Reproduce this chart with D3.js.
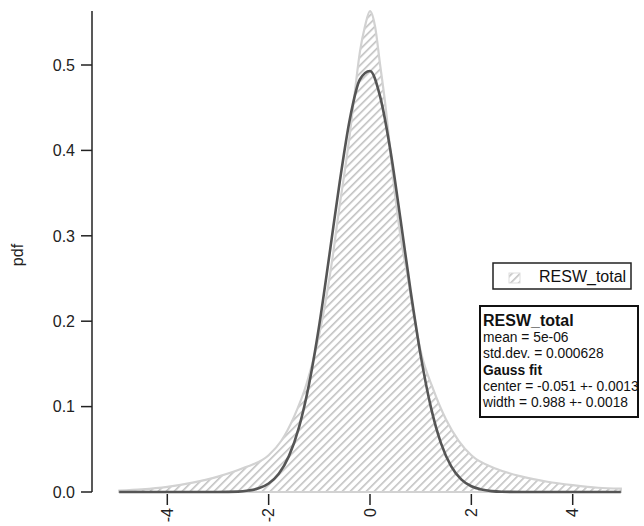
<!DOCTYPE html>
<html>
<head>
<meta charset="utf-8">
<script src="https://cdn.jsdelivr.net/npm/d3@7"></script>
<style>
  body { margin: 0; background: #fff; }
  text { font-family: "Liberation Sans", Arial, sans-serif; }
</style>
</head>
<body>
<div id="chart"></div>
<script>
// histogram of RESW_total (outline)
const histX = [-4.95, -4.5, -4.0, -3.5, -3.0, -2.5, -2.0, -1.75, -1.5, -1.25, -1.0, -0.9, -0.75, -0.6, -0.5, -0.4, -0.3, -0.2, -0.1, 0.0,
               0.1, 0.2, 0.3, 0.4, 0.5, 0.6, 0.75, 0.85, 1.0, 1.25, 1.5, 1.75, 2.0, 2.5, 3.0, 3.5, 4.0, 4.5, 4.95];
const histY = [0.0015, 0.003, 0.006, 0.011, 0.018, 0.028, 0.043, 0.06, 0.088, 0.127, 0.185, 0.215, 0.27, 0.335, 0.375, 0.418, 0.468, 0.515, 0.545, 0.563,
               0.545, 0.50, 0.455, 0.40, 0.345, 0.30, 0.25, 0.213, 0.165, 0.12, 0.085, 0.06, 0.043, 0.027, 0.018, 0.012, 0.008, 0.005, 0.004];

// gauss fit curve
const gaussX = [-4.95, -3.0, -2.6, -2.4, -2.2, -2.0, -1.8, -1.6, -1.4, -1.2, -1.0, -0.8, -0.6, -0.4, -0.2, 0.0,
                0.2, 0.4, 0.6, 0.8, 1.0, 1.2, 1.4, 1.6, 1.8, 2.0, 2.2, 2.4, 2.6, 3.0, 4.95];
const gaussY = [0, 0, 0.0004, 0.0017, 0.0043, 0.010, 0.0214, 0.042, 0.076, 0.127, 0.196, 0.278, 0.362, 0.436, 0.483, 0.493,
                0.463, 0.401, 0.320, 0.236, 0.160, 0.0997, 0.0573, 0.0304, 0.0148, 0.0067, 0.0028, 0.001, 0.0003, 0, 0];

const xTicks = [-4, -2, 0, 2, 4];
const yTicks = [0.0, 0.1, 0.2, 0.3, 0.4, 0.5];
const legendLabel = "RESW_total";
const statsLines = [
  { t: "RESW_total", bold: true },
  { t: "mean = 5e-06", bold: false },
  { t: "std.dev. = 0.000628", bold: false },
  { t: "Gauss fit", bold: true },
  { t: "center = -0.051 +- 0.0013", bold: false },
  { t: "width = 0.988 +- 0.0018", bold: false }
];

const width = 644, height = 526;
const svg = d3.select("#chart").append("svg")
  .attr("width", width).attr("height", height);

// hatch pattern
const defs = svg.append("defs");
const pat = defs.append("pattern")
  .attr("id", "hatch")
  .attr("patternUnits", "userSpaceOnUse")
  .attr("width", 5.66).attr("height", 5.66)
  .attr("patternTransform", "rotate(45)");
pat.append("line")
  .attr("x1", 0).attr("y1", 0).attr("x2", 0).attr("y2", 5.66)
  .attr("stroke", "#c4c4c4").attr("stroke-width", 3.3);

const x = d3.scaleLinear().domain([-4, 4]).range([167.3, 572.7]);
const y = d3.scaleLinear().domain([0, 0.5]).range([492, 65]);

// histogram area
const hist = histX.map((v, i) => [v, histY[i]]);
const area = d3.area()
  .x(d => x(d[0])).y0(y(0)).y1(d => y(d[1]))
  .curve(d3.curveMonotoneX);
svg.append("path")
  .datum(hist)
  .attr("d", area)
  .attr("fill", "url(#hatch)")
  .attr("stroke", "#d2d2d2")
  .attr("stroke-width", 2.2);

// gauss fit
const gauss = gaussX.map((v, i) => [v, gaussY[i]]);
const line = d3.line()
  .x(d => x(d[0])).y(d => y(d[1]))
  .curve(d3.curveMonotoneX);
svg.append("path")
  .datum(gauss)
  .attr("d", line)
  .attr("fill", "none")
  .attr("stroke", "#555")
  .attr("stroke-width", 2.6);

// y axis
const yAxis = svg.append("g").attr("transform", "translate(92,0)");
yAxis.append("line")
  .attr("x1", 0).attr("x2", 0).attr("y1", 11).attr("y2", y(0))
  .attr("stroke", "#222").attr("stroke-width", 1.5);
yTicks.forEach(t => {
  yAxis.append("line")
    .attr("x1", -11).attr("x2", 0).attr("y1", y(t)).attr("y2", y(t))
    .attr("stroke", "#222").attr("stroke-width", 1.5);
  yAxis.append("text")
    .attr("x", -17).attr("y", y(t)).attr("dy", "0.36em")
    .attr("text-anchor", "end").attr("font-size", "16px").attr("fill", "#222")
    .text(t.toFixed(1));
});
svg.append("text")
  .attr("transform", "translate(23,255) rotate(-90)")
  .attr("text-anchor", "middle").attr("font-size", "16px").attr("fill", "#222")
  .text("pdf");

// x ticks (no axis line)
xTicks.forEach(t => {
  svg.append("line")
    .attr("x1", x(t)).attr("x2", x(t)).attr("y1", 494).attr("y2", 505)
    .attr("stroke", "#222").attr("stroke-width", 1.5);
  svg.append("text")
    .attr("transform", `translate(${x(t)},508) rotate(-90)`)
    .attr("dy", "0.36em")
    .attr("text-anchor", "end").attr("font-size", "16px").attr("fill", "#222")
    .text(t);
});

// legend
const leg = svg.append("g");
leg.append("rect")
  .attr("x", 493).attr("y", 263).attr("width", 138).attr("height", 26)
  .attr("fill", "#fff").attr("stroke", "#222").attr("stroke-width", 1.5);
leg.append("rect")
  .attr("x", 509).attr("y", 273).attr("width", 11).attr("height", 10)
  .attr("fill", "url(#hatch)").attr("stroke", "#ddd").attr("stroke-width", 1);
leg.append("text")
  .attr("x", 539).attr("y", 281.5).attr("font-size", "16px").attr("fill", "#111")
  .text(legendLabel);

// stats box
const box = svg.append("g");
box.append("rect")
  .attr("x", 480).attr("y", 306).attr("width", 158).attr("height", 111)
  .attr("fill", "#fff").attr("stroke", "#111").attr("stroke-width", 2);
statsLines.forEach((s, i) => {
  box.append("text")
    .attr("x", 483).attr("y", 326 + i * 16.2)
    .attr("font-size", i === 0 ? "16px" : "13.8px")
    .attr("font-weight", s.bold ? "bold" : "normal")
    .attr("fill", "#111")
    .text(s.t);
});
</script>
</body>
</html>
